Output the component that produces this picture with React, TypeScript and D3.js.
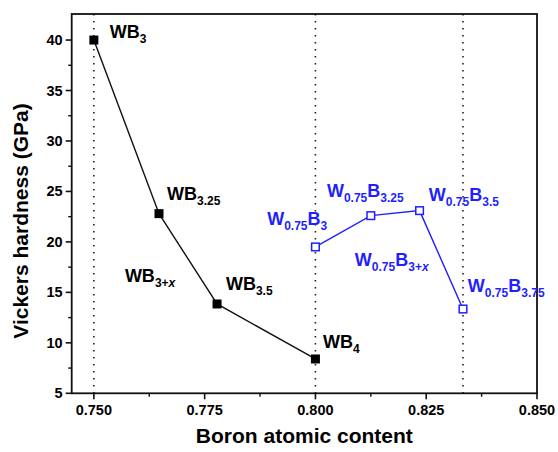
import { scaleLinear, line, range } from 'd3';

// boron atomic content (x) vs Vickers hardness in GPa (y)
const wbX = [0.75, 0.7647, 0.7778, 0.8];
const wbY = [40, 22.8, 13.85, 8.4];
const w75X = [0.8, 0.8125, 0.8235, 0.8333];
const w75Y = [19.5, 22.6, 23.1, 13.35];
const guideX = [0.75, 0.8, 0.8333];
const xTicks = [0.75, 0.775, 0.8, 0.825, 0.85];
const yTicks = [5, 10, 15, 20, 25, 30, 35, 40];

// label text in segments, "s" = subscript, "i" = italic
type Seg = { t: string; s?: boolean; i?: boolean };
const wbLabels: { at: [number, number]; segs: Seg[] }[] = [
  { at: [0.7536, 40.2], segs: [{ t: 'WB' }, { t: '3', s: true }] },
  { at: [0.7665, 24.15], segs: [{ t: 'WB' }, { t: '3.25', s: true }] },
  { at: [0.757, 16.0], segs: [{ t: 'WB' }, { t: '3+', s: true }, { t: 'x', s: true, i: true }] },
  { at: [0.7798, 15.2], segs: [{ t: 'WB' }, { t: '3.5', s: true }] },
  { at: [0.8017, 9.5], segs: [{ t: 'WB' }, { t: '4', s: true }] },
];
const w75Labels: { at: [number, number]; segs: Seg[] }[] = [
  { at: [0.7891, 21.67], segs: [{ t: 'W' }, { t: '0.75', s: true }, { t: 'B' }, { t: '3', s: true }] },
  { at: [0.8026, 24.45], segs: [{ t: 'W' }, { t: '0.75', s: true }, { t: 'B' }, { t: '3.25', s: true }] },
  { at: [0.8256, 24.05], segs: [{ t: 'W' }, { t: '0.75', s: true }, { t: 'B' }, { t: '3.5', s: true }] },
  { at: [0.8089, 17.6], segs: [{ t: 'W' }, { t: '0.75', s: true }, { t: 'B' }, { t: '3+', s: true }, { t: 'x', s: true, i: true }] },
  { at: [0.8344, 15.03], segs: [{ t: 'W' }, { t: '0.75', s: true }, { t: 'B' }, { t: '3.75', s: true }] },
];

const W = 558;
const H = 452;
const M = { left: 71.7, top: 14, right: 537, bottom: 393.3 };
const FONT = "Arial, 'Liberation Sans', sans-serif";
const BLUE = '#1f1fff';

export default function App() {
  const x = scaleLinear().domain([0.745, 0.85]).range([M.left, M.right]);
  const y = scaleLinear().domain([5, 42.58]).range([M.bottom, M.top]);

  const mkPath = (xs: number[], ys: number[]) =>
    line<number>()
      .x((d) => x(d))
      .y((_, i) => y(ys[i]))(xs) || '';

  const xMinor = range(0.7625, 0.85, 0.025);
  const yMinor = range(7.5, 42.5, 5);

  // renders segmented label with subscripts
  const label = (segs: Seg[], at: [number, number], color: string, key: number) => {
    let down = false;
    return (
      <text key={key} x={x(at[0])} y={y(at[1])} fill={color} fontFamily={FONT} fontWeight="bold" fontSize={18}>
        {segs.map((s, j) => {
          let dy = 0;
          if (s.s && !down) { dy = 5; down = true; }
          else if (!s.s && down) { dy = -5; down = false; }
          return (
            <tspan key={j} dy={dy} fontSize={s.s ? 12 : 18} fontStyle={s.i ? 'italic' : 'normal'}>
              {s.t}
            </tspan>
          );
        })}
      </text>
    );
  };

  return (
    <svg width={W} height={H} style={{ position: 'absolute', left: 0, top: 0, background: '#fff' }}>
      {/* vertical dotted guides */}
      {guideX.map((g, i) => (
        <line key={i} x1={x(g)} x2={x(g)} y1={M.top} y2={M.bottom} stroke="#222" strokeWidth={1.6}
          strokeDasharray="1.6 5.4" />
      ))}

      {/* frame */}
      <rect x={M.left} y={M.top} width={M.right - M.left} height={M.bottom - M.top} fill="none" stroke="#111" strokeWidth={1.8} />

      {/* x ticks */}
      {xTicks.map((t, i) => (
        <g key={i}>
          <line x1={x(t)} x2={x(t)} y1={M.bottom} y2={M.bottom + 6} stroke="#111" strokeWidth={1.6} />
          <text x={x(t)} y={M.bottom + 22} textAnchor="middle" fontFamily={FONT} fontWeight="bold" fontSize={14.5}>
            {t.toFixed(3)}
          </text>
        </g>
      ))}
      {xMinor.map((t, i) => (
        <line key={i} x1={x(t)} x2={x(t)} y1={M.bottom} y2={M.bottom + 3.5} stroke="#111" strokeWidth={1.4} />
      ))}

      {/* y ticks */}
      {yTicks.map((t, i) => (
        <g key={i}>
          <line x1={M.left - 6} x2={M.left} y1={y(t)} y2={y(t)} stroke="#111" strokeWidth={1.6} />
          <text x={M.left - 9} y={y(t) + 5} textAnchor="end" fontFamily={FONT} fontWeight="bold" fontSize={14.5}>
            {t}
          </text>
        </g>
      ))}
      {yMinor.map((t, i) => (
        <line key={i} x1={M.left - 3.5} x2={M.left} y1={y(t)} y2={y(t)} stroke="#111" strokeWidth={1.4} />
      ))}

      {/* axis titles */}
      <text x={(M.left + M.right) / 2} y={443} textAnchor="middle" fontFamily={FONT} fontWeight="bold" fontSize={21}>
        Boron atomic content
      </text>
      <text transform={`translate(28,221) rotate(-90)`} textAnchor="middle"
        fontFamily={FONT} fontWeight="bold" fontSize={21}>
        Vickers hardness (GPa)
      </text>

      {/* WB series */}
      <path d={mkPath(wbX, wbY)} fill="none" stroke="#111" strokeWidth={1.4} />
      {wbX.map((d, i) => (
        <rect key={i} x={x(d) - 4.5} y={y(wbY[i]) - 4.5} width={9} height={9} fill="#000" />
      ))}

      {/* W0.75B series */}
      <path d={mkPath(w75X, w75Y)} fill="none" stroke={BLUE} strokeWidth={1.4} />
      {w75X.map((d, i) => (
        <rect key={i} x={x(d) - 3.8} y={y(w75Y[i]) - 3.8} width={7.6} height={7.6} fill="#fff" stroke={BLUE} strokeWidth={1.5} />
      ))}

      {wbLabels.map((l, i) => label(l.segs, l.at, '#000', i))}
      {w75Labels.map((l, i) => label(l.segs, l.at, BLUE, i + 10))}
    </svg>
  );
}
